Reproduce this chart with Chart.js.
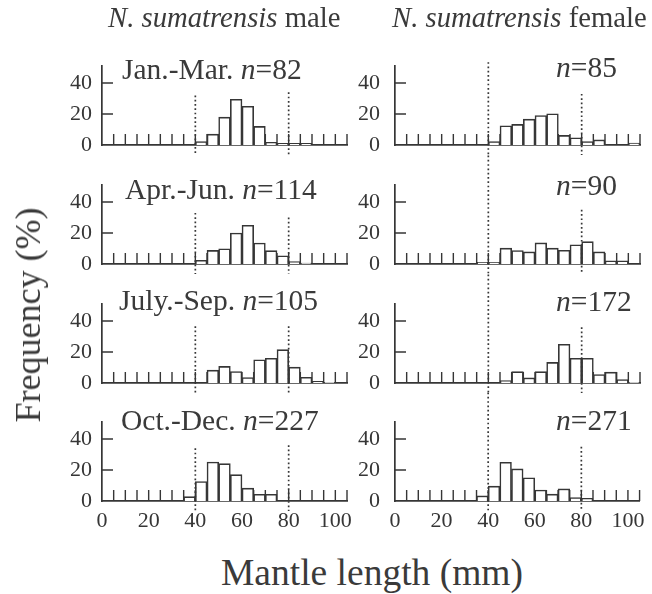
<!DOCTYPE html>
<html>
<head>
<meta charset="utf-8">
<script src="https://cdn.jsdelivr.net/npm/chart.js@4.4.1/dist/chart.umd.min.js"></script>
<style>
  body { margin: 0; background: #fff; }
  #wrap { position: relative; width: 652px; height: 594px; overflow: hidden;
          font-family: 'Liberation Serif', serif; color: #3a3a3a; }
  #wrap canvas { position: absolute; }
  .t { position: absolute; white-space: nowrap; line-height: 1; font-family: 'Liberation Serif', serif; }
</style>
</head>
<body>
<div id="wrap"></div>
<script>
// ─── データ（5mm 階級: 0-5, 5-10, ... 100-105） ───────────
const BIN_STARTS = [0, 5, 10, 15, 20, 25, 30, 35, 40, 45, 50, 55, 60, 65, 70, 75, 80, 85, 90, 95, 100];
const MINOR_TICKS = [5, 10, 15, 20, 25, 30, 35, 40, 45, 50, 55, 60, 65, 70, 75, 80, 85, 90, 95, 100, 105];
const Y_TICKS = [20, 40];
const GUIDE_LINES = [40, 80];

const maleJanMar   = [0,0,0,0,0,0,0,0, 2.2, 7.0,18.0,29.5,25.0,12.0, 1.8, 1.0, 1.0, 1.0, 0,   0,   0];
const maleAprJun   = [0,0,0,0,0,0,0,0, 2.4, 8.8, 9.8,20.0,25.0,13.5, 8.6, 5.3, 1.6, 0.6, 0,   0,   0];
const maleJulSep   = [0,0,0,0,0,0,0,0, 0,   8.3,10.7, 7.4, 3.5,15.0,16.0,21.5,10.2, 3.7, 1.0, 0.5, 0];
const maleOctDec   = [0,0,0,0,0,0,0,2.8,12.6,25.2,24.1,17.0, 8.3, 4.3, 4.3, 0,   0,   0,   0,   0,   0];
const femaleJanMar = [0,0,0,0,0,0,0,0, 2.2,12.4,13.3,16.7,19.0,20.2, 6.2, 4.7, 2.2, 3.3, 0,   0,   1.2];
const femaleAprJun = [0,0,0,0,0,0,0,1.1,1.1,10.2, 8.7, 7.8,13.6,10.2, 8.9,12.4,14.4, 7.8, 2.0, 2.0, 0];
const femaleJulSep = [0,0,0,0,0,0,0,0, 0,   1.5, 7.3, 3.3, 7.3,13.3,25.0,16.0,16.0, 5.5, 7.0, 2.2, 0.5];
const femaleOctDec = [0,0,0,0,0,0,0,3.3,9.6,25.0,20.7,15.0, 7.1, 4.4, 7.8, 2.2, 1.8, 0,   0,   0,   0];

const PERIODS   = ['Jan.-Mar.', 'Apr.-Jun.', 'July.-Sep.', 'Oct.-Dec.'];
const MALE_N    = [82, 114, 105, 227];
const FEMALE_N  = [85, 90, 172, 271];
const X_TICK_LABELS = [0, 20, 40, 60, 80, 100];

// ─── 配置 ─────────────────────────────────────────
const INK = '#363636';
const SERIF = 'Liberation Serif, serif';
const BASELINES = [145, 264, 383, 501];
const COLS = [
  { left: 40,  width: 320, axisW: 62, padR: 13, tickPad: 10 },
  { left: 340, width: 312, axisW: 55, padR: 12, tickPad: 15 },
];
// 点線の上端（%値）
const GUIDE_TOPS = [
  [[32, 34], [33, 30], [36.6, 36.6], [34, 36]],
  [[53.5, 33], [70, 35], [70, 36], [70, 35]],
];

const wrap = document.getElementById('wrap');

function addText(html, x, baseline, size, extra) {
  const d = document.createElement('div');
  d.className = 't';
  d.innerHTML = html;
  d.style.fontSize = size + 'px';
  d.style.left = x + 'px';
  d.style.top = (baseline - 0.837 * size) + 'px';
  if (extra) Object.assign(d.style, extra);
  wrap.appendChild(d);
  return d;
}

// 内向き目盛りと点線
const innerMarks = {
  id: 'innerMarks',
  beforeDatasetsDraw(chart) {
    const { ctx, scales: { x, y } } = chart;
    const base = y.getPixelForValue(0);
    ctx.save();
    ctx.strokeStyle = INK;
    ctx.lineWidth = 1.4;
    ctx.beginPath();
    MINOR_TICKS.forEach(v => {
      const px = x.getPixelForValue(v);
      ctx.moveTo(px, base);
      ctx.lineTo(px, base - 11);
    });
    Y_TICKS.forEach(v => {
      const py = y.getPixelForValue(v);
      ctx.moveTo(x.left, py);
      ctx.lineTo(x.left + 11, py);
    });
    ctx.stroke();
    ctx.restore();
  },
  afterDatasetsDraw(chart, args, opts) {
    const { ctx, scales: { x, y } } = chart;
    const base = y.getPixelForValue(0);
    ctx.save();
    ctx.strokeStyle = INK;
    ctx.lineWidth = 1.7;
    ctx.setLineDash([1.7, 2.6]);
    GUIDE_LINES.forEach((v, i) => {
      const px = x.getPixelForValue(v);
      ctx.beginPath();
      ctx.moveTo(px, y.getPixelForValue(opts.tops[i]));
      ctx.lineTo(px, base + 10);
      ctx.stroke();
    });
    ctx.restore();
  },
};

function makePanel(col, row, values) {
  const c = COLS[col];
  const cv = document.createElement('canvas');
  cv.width = c.width;
  cv.height = 160;
  cv.style.left = c.left + 'px';
  cv.style.top = (BASELINES[row] - 120) + 'px';
  wrap.appendChild(cv);
  const showX = row === 3;

  return new Chart(cv.getContext('2d'), {
    type: 'bar',
    data: {
      datasets: [{
        data: values.map((v, i) => ({ x: BIN_STARTS[i] + 2.5, y: v })),
        backgroundColor: '#fff',
        borderColor: INK,
        borderWidth: 1.6,
        barPercentage: 1,
        categoryPercentage: 1,
      }],
    },
    options: {
      responsive: false,
      animation: false,
      events: [],
      layout: { padding: { top: 41, right: c.padR, left: 0, bottom: 0 } },
      plugins: {
        legend: { display: false },
        tooltip: { enabled: false },
        innerMarks: { tops: GUIDE_TOPS[col][row] },
      },
      scales: {
        x: {
          type: 'linear', min: 0, max: 105, offset: false, z: 1,
          grid: { display: false, offset: false, drawTicks: false },
          border: { display: true, color: INK, width: 1.7 },
          ticks: {
            display: showX, stepSize: 20, includeBounds: false, autoSkip: false, maxRotation: 0,
            padding: 7, color: INK, font: { family: SERIF, size: 22 },
            callback: v => X_TICK_LABELS.includes(v) ? String(v) : '',
          },
          afterFit: s => { s.height = 40; },
        },
        y: {
          min: 0, max: 51, z: 1,
          grid: { display: false, drawTicks: false },
          border: { display: true, color: INK, width: 1.7 },
          ticks: {
            stepSize: 20, includeBounds: false, padding: c.tickPad,
            color: INK, font: { family: SERIF, size: 22 },
          },
          afterFit: s => { s.width = c.axisW; },
        },
      },
    },
    plugins: [innerMarks],
  });
}

[maleJanMar, maleAprJun, maleJulSep, maleOctDec].forEach((d, r) => makePanel(0, r, d));
[femaleJanMar, femaleAprJun, femaleJulSep, femaleOctDec].forEach((d, r) => makePanel(1, r, d));

// ─── テキスト ─────────────────────────────────────
addText('<i>N. sumatrensis</i> male', 108, 27, 28.7);
addText('<i>N. sumatrensis</i> female', 392, 27, 28.7);

const LABEL_X = [122, 125, 119, 121];
const LABEL_BASE_L = [80, 200, 311, 431];
const LABEL_BASE_R = [78, 196, 312, 431];
PERIODS.forEach((p, r) => {
  addText(`${p} <i>n</i>=${MALE_N[r]}`, LABEL_X[r], LABEL_BASE_L[r], 29.5);
  addText(`<i>n</i>=${FEMALE_N[r]}`, 556, LABEL_BASE_R[r], 29.5);
});

addText('Frequency (%)', 28, 312, 36,
  { left: '28px', top: '315px', transform: 'translate(-50%, -50%) rotate(-90deg)' });
addText('Mantle length (mm)', 372, 572, 37.5,
  { left: '372px', top: '573px', transform: 'translate(-50%, -50%)' });
</script>
</body>
</html>
